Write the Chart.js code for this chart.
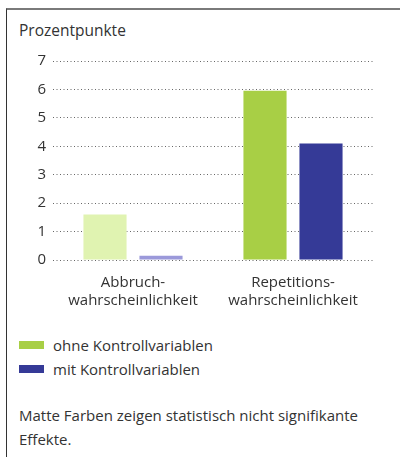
<!DOCTYPE html>
<html>
<head>
<meta charset="utf-8">
<script src="https://cdn.jsdelivr.net/npm/chart.js@4.4.1/dist/chart.umd.min.js"></script>
<style>
  body { margin: 0; width: 400px; height: 457px; background: #fff; font-family: "Open Sans", sans-serif; color: #333; position: relative; overflow: hidden; }
  .frame { position: absolute; left: 6px; top: 8px; right: 0; bottom: 0; border-top: 2px solid #7a7a7a; border-left: 1px solid #333; }
  #wrap { position: absolute; left: 0; top: 0; width: 400px; height: 320px; }
  .title { position: absolute; left: 19px; top: 19px; font-size: 15.5px; }
  .legend { position: absolute; left: 19px; top: 333px; font-size: 15px; line-height: 24px; }
  .legend span.box { display: inline-block; width: 25px; height: 8px; margin-right: 9px; vertical-align: 2px; }
  .note { position: absolute; left: 19px; top: 403px; font-size: 15px; line-height: 24px; width: 375px; }
</style>
</head>
<body>
<div class="frame"></div>
<div class="title">Prozentpunkte</div>
<div id="wrap"><canvas id="chart"></canvas></div>
<div class="legend" id="legend"></div>
<div class="note">Matte Farben zeigen statistisch nicht signifikante Effekte.</div>
<script>
// daten
const categories = [["Abbruch-", "wahrscheinlichkeit"], ["Repetitions-", "wahrscheinlichkeit"]];
const seriesNames = ["ohne Kontrollvariablen", "mit Kontrollvariablen"];
const ohneValues = [1.6, 5.95];
const mitValues = [0.15, 4.1];
const yMin = 0;
const yMax = 7;

// farben: kräftig = signifikant, matt = nicht signifikant
const green = '#a8cf45', greenMatt = '#e0f3b1';
const blue = '#353a97', blueMatt = '#9b99da';

const legend = document.getElementById('legend');
[green, blue].forEach((c, i) => {
  const row = document.createElement('div');
  row.innerHTML = '<span class="box" style="background:' + c + '"></span>' + seriesNames[i];
  legend.appendChild(row);
});

new Chart(document.getElementById('chart'), {
  type: 'bar',
  data: {
    labels: categories,
    datasets: [
      { label: seriesNames[0], data: ohneValues, backgroundColor: [greenMatt, green] },
      { label: seriesNames[1], data: mitValues, backgroundColor: [blueMatt, blue] }
    ]
  },
  options: {
    responsive: true,
    maintainAspectRatio: false,
    animation: false,
    categoryPercentage: 0.7,
    barPercentage: 0.77,
    layout: { padding: { top: 61, right: 27, bottom: 0, left: 0 } },
    plugins: { legend: { display: false }, tooltip: { enabled: false } },
    scales: {
      x: {
        grid: { display: false },
        border: { display: false },
        afterFit: (s) => { s.height = 60; },
        ticks: { color: '#333', padding: 6, font: { family: 'Open Sans', size: 15, lineHeight: 1.2 } }
      },
      y: {
        min: yMin,
        max: yMax,
        afterFit: (s) => { s.width = 53; },
        grid: { color: '#666', lineWidth: 1, drawTicks: false, tickLength: 0 },
        border: { display: false, dash: [1, 2.5] },
        ticks: { stepSize: 1, color: '#333', padding: 7, font: { family: 'Open Sans', size: 15 } }
      }
    }
  }
});
</script>
</body>
</html>
